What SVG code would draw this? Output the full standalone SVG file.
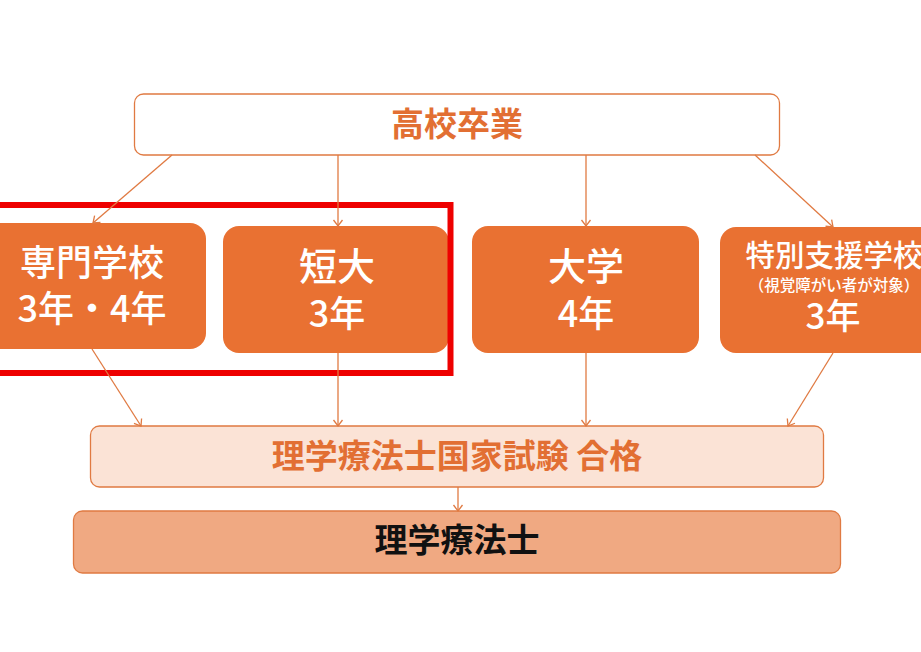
<svg xmlns="http://www.w3.org/2000/svg" width="921" height="652" viewBox="0 0 921 652">
<defs>
<marker id="arr" markerUnits="userSpaceOnUse" markerWidth="12" markerHeight="12" refX="10" refY="6" orient="auto">
<path d="M4,1.5 L10,6 L4,10.5" fill="none" stroke="#E07A42" stroke-width="1.3"/>
</marker>
<style>
.t{font-family:"Noto Sans CJK JP","Noto Sans CJK SC",sans-serif;font-weight:700;text-anchor:middle}
.m{font-weight:500}
.w{fill:#FFFFFF}
.o{fill:#E26F33}
.k{fill:#111111}
.box{fill:#E97132}
.c line{stroke:#E07A42;stroke-width:1.3;marker-end:url(#arr)}
</style>
</defs>
<rect width="921" height="652" fill="#FFFFFF"/>
<g id="top">
<rect x="134.5" y="94" width="645" height="61" rx="9" fill="#FFFFFF" stroke="#E07A42" stroke-width="1.3"/>
<text class="t o" x="457" y="136" font-size="33">高校卒業</text>
</g>
<g id="senmon">
<rect class="box" x="-20" y="223" width="226" height="126" rx="16"/>
<text class="t m w" x="92" y="276" font-size="36">専門学校</text>
<text class="t m w" x="92" y="322" font-size="36">3年・4年</text>
</g>
<g id="tandai">
<rect class="box" x="223" y="226" width="226" height="127" rx="16"/>
<text class="t m w" x="337" y="280" font-size="38">短大</text>
<text class="t m w" x="337" y="327" font-size="36">3年</text>
</g>
<g id="daigaku">
<rect class="box" x="472" y="226" width="227" height="127" rx="16"/>
<text class="t m w" x="586" y="280" font-size="38">大学</text>
<text class="t m w" x="586" y="327" font-size="36">4年</text>
</g>
<g id="tokubetsu">
<rect class="box" x="720" y="227" width="226" height="126" rx="16"/>
<text class="t m w" x="834" y="266" font-size="29.5">特別支援学校</text>
<text class="t m w" x="834" y="291" font-size="15.5">（視覚障がい者が対象）</text>
<text class="t m w" x="833" y="329" font-size="35">3年</text>
</g>
<g id="highlight">
<rect x="-10" y="205" width="460.5" height="168" fill="none" stroke="#EE0000" stroke-width="6"/>
</g>
<g id="exam">
<rect x="90.5" y="426" width="733" height="61" rx="9" fill="#FBE3D6" stroke="#E07A42" stroke-width="1.3"/>
<text class="t o" x="457" y="468" font-size="33">理学療法士国家試験 合格</text>
</g>
<g id="pt">
<rect x="73.5" y="511" width="767" height="62" rx="9" fill="#F0A982" stroke="#E07A42" stroke-width="1.3"/>
<text class="t k" x="457" y="552" font-size="33">理学療法士</text>
</g>
<g class="c" id="connectors">
<line x1="172" y1="155" x2="93" y2="223"/>
<line x1="338" y1="155" x2="338" y2="226"/>
<line x1="586" y1="155" x2="586" y2="226"/>
<line x1="755" y1="155" x2="833" y2="227"/>
<line x1="92" y1="349" x2="141" y2="426"/>
<line x1="338" y1="353" x2="338" y2="426"/>
<line x1="586" y1="353" x2="586" y2="426"/>
<line x1="833" y1="353" x2="788" y2="426"/>
<line x1="458" y1="487" x2="458" y2="511"/>
</g>
</svg>
